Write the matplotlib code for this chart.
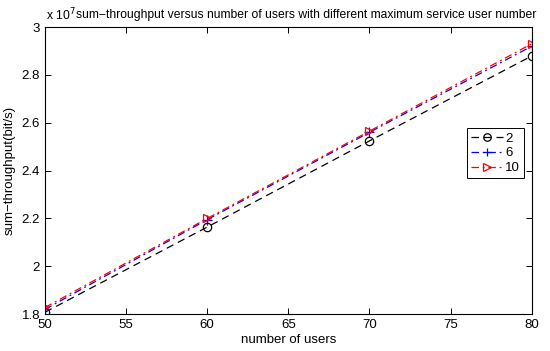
import numpy as np
import matplotlib
matplotlib.use("Agg")
import matplotlib.pyplot as plt
from matplotlib.ticker import FuncFormatter

plt.rcParams['font.family'] = ['Liberation Sans', 'DejaVu Sans']

# data (sum-throughput in units of 1e7 bit/s)
users = [50, 60, 70, 80]
thr_2 = [1.808, 2.164, 2.524, 2.879]
thr_6 = [1.820, 2.195, 2.560, 2.920]
thr_10 = [1.828, 2.200, 2.565, 2.930]
labels = ['2', '6', '10']

fig = plt.figure(figsize=(5.5, 3.51), dpi=100)
ax = fig.add_axes([0.0818, 0.105, 0.885, 0.818])

ax.plot(users, thr_2, color='black', linestyle=(0, (6, 4)), linewidth=0.9,
        marker='o', markersize=6, markerfacecolor='none', markeredgewidth=0.9, label=labels[0])
ax.plot(users, thr_6, color='blue', linestyle=(0, (6, 3, 1.5, 3)), linewidth=0.9,
        marker='+', markersize=7, markeredgewidth=0.9, label=labels[1])
ax.plot(users, thr_10, color='red', linestyle=(0, (6, 3, 1.5, 3)), linewidth=0.9,
        marker='>', markersize=6, markerfacecolor='none', markeredgewidth=0.9, label=labels[2])

ax.set_xlim(50, 80)
ax.set_ylim(1.8, 3.0)
ax.set_xticks([50, 55, 60, 65, 70, 75, 80])
ax.set_yticks([1.8, 2.0, 2.2, 2.4, 2.6, 2.8, 3.0])
ax.yaxis.set_major_formatter(FuncFormatter(lambda v, p: '%g' % round(v, 1)))
ax.tick_params(direction='in', top=True, right=True, length=4, width=0.7, labelsize=9.5)
for s in ax.spines.values():
    s.set_linewidth(0.8)

ax.set_xlabel('number of users', fontsize=9.5, labelpad=2)
ax.set_ylabel('sum\u2212throughput(bit/s)', fontsize=9.5, labelpad=4)
# title and exponent label, placed as in the reference
fig.text(76 / 550, 1 - 18 / 351, 'sum\u2212throughput versus number of users with different maximum service user number',
         fontsize=8.7, ha='left', va='baseline')
fig.text(46 / 550, 1 - 20 / 351, r'x 10$^7$', fontsize=8.7, ha='left', va='baseline')

leg = ax.legend(loc='upper right', bbox_to_anchor=(0.998, 0.67), fontsize=9.5,
                fancybox=False, edgecolor='black', framealpha=1, handlelength=2.4,
                handletextpad=0.2, borderpad=0.3, labelspacing=0.2, markerscale=0.9)
leg.get_frame().set_linewidth(0.7)

fig.savefig('out.png', dpi=100)
